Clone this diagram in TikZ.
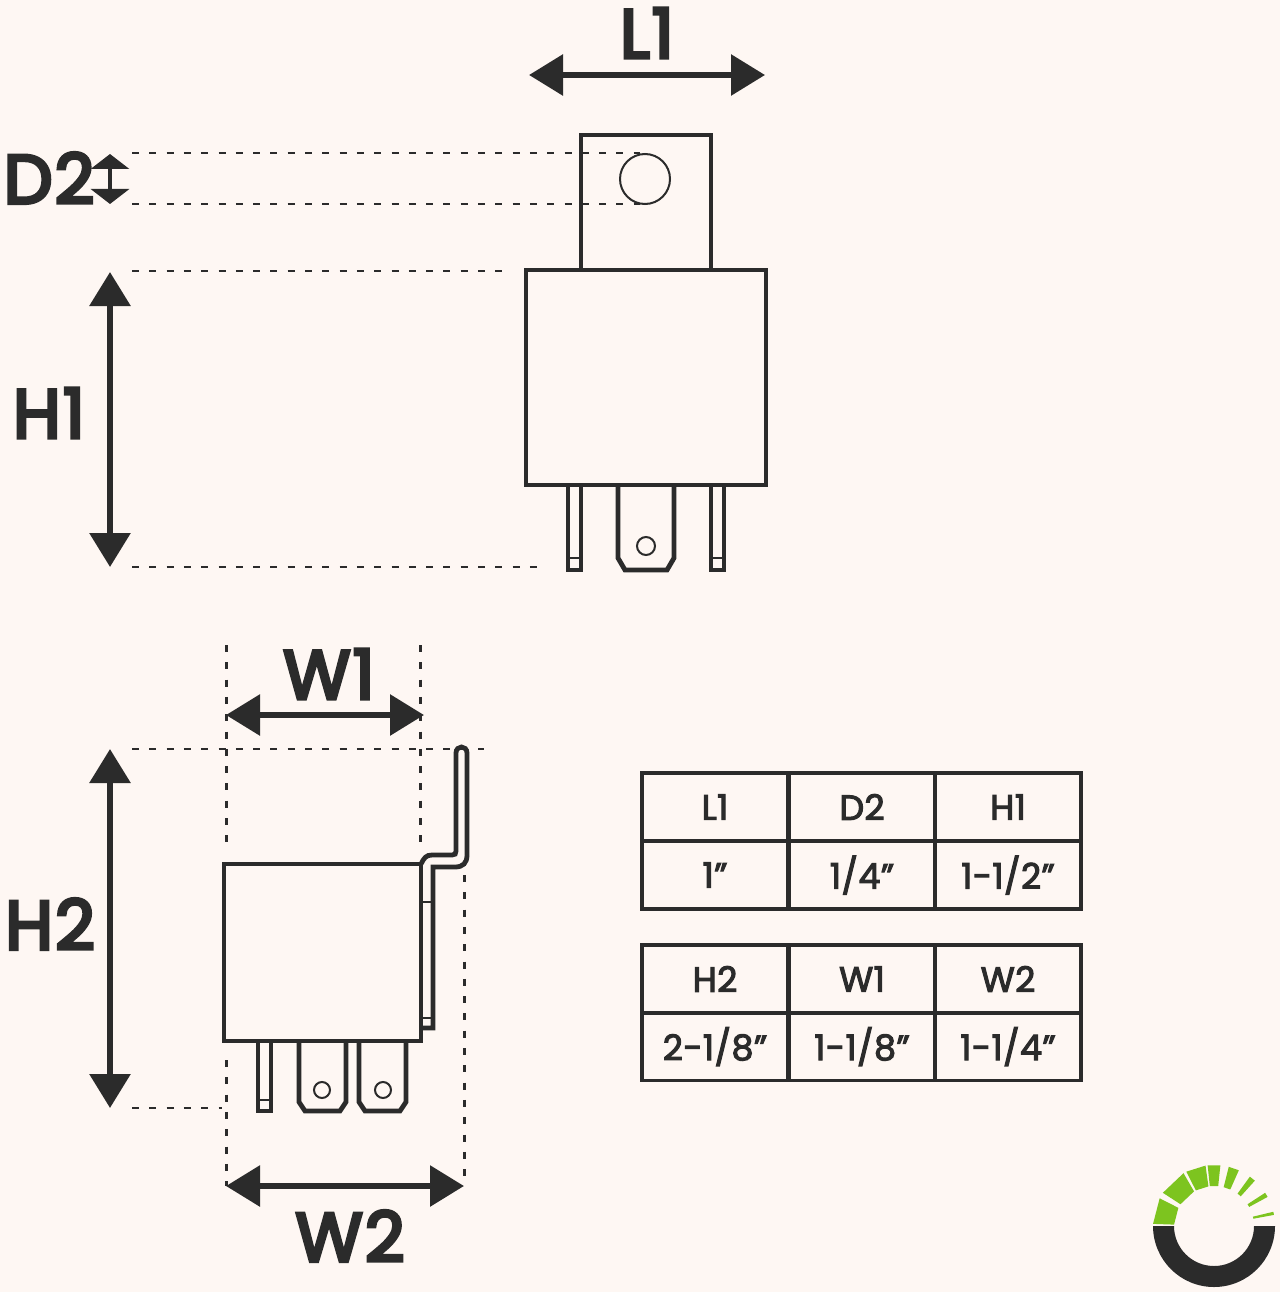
\documentclass[tikz,border=0pt]{standalone}
\usepackage{fontspec}
\setmainfont{Poppins}
\newfontfamily\dimfont[FakeBold=5,LetterSpace=3]{Poppins}
\newfontfamily\cellfont[FakeBold=3,LetterSpace=1]{Poppins}
\usetikzlibrary{arrows.meta}
\definecolor{paper}{HTML}{FEF7F3}
\definecolor{ink}{HTML}{2B2B2B}
\definecolor{leaf}{HTML}{7DC41F}
\tikzstyle{part} = [draw = ink, line width = 4.8pt, line join = miter]
\tikzstyle{thinpart} = [draw = ink, line width = 2pt]
\tikzstyle{guide} = [draw = ink, line width = 2.2pt, dash pattern = on 7pt off 10.3pt]
\tikzstyle{guidev} = [draw = ink, line width = 3pt, dash pattern = on 7pt off 10.3pt]
\tikzstyle{dimarrow} = [draw = ink, line width = 6pt, <->, %
                        >={Triangle[length=34pt,width=40pt]}]
\tikzstyle{smallarrow} = [draw = ink, line width = 4pt, <->, %
                          >={Triangle[length=15pt,width=38pt]}]
\tikzstyle{dimlabel} = [text = ink, font = \fontsize{69}{76}\dimfont, %
                        inner sep = 0pt]
\tikzstyle{cell} = [rectangle, draw = ink, line width = 3.4pt, text = ink, %
                    minimum width = 146.3pt, minimum height = 68pt, inner sep = 0pt, %
                    font = \fontsize{35}{40}\cellfont]
\newcommand{\hole}[3]{\draw [thinpart] (#1,#2) circle (#3);}
\begin{document}
\begin{tikzpicture}[x=1pt,y=-1pt]
      \fill [paper] (0,0) rectangle (1280,1292);
      \useasboundingbox (0,0) rectangle (1280,1292);
      % Front relay
      \draw [part] (581,270) -- (581,135) -- (711,135) -- (711,270);
      \draw [part] (526,270) rectangle (766,485);
      \hole{645}{179}{25}
      \draw [part] (568,485) -- (568,570) -- (581,570) -- (581,485);
      \draw [thinpart] (568,558) -- (581,558);
      \draw [part] (618,485) -- (618,558) -- (625,570) -- (667,570) %
        -- (674,558) -- (674,485);
      \hole{646}{546}{9}
      \draw [part] (711,485) -- (711,570) -- (724,570) -- (724,485);
      \draw [thinpart] (711,558) -- (724,558);
      % Side relay
      \draw [part] (224,864) rectangle (421,1041);
      \draw [part] (421,864) .. controls (424,858) and (426,855) .. (432,855) %
        -- (452,855) .. controls (455,855) and (456,854) .. (456,851) %
        -- (456,753) .. controls (456,745) and (467,745) .. (467,753) %
        -- (467,855) .. controls (467,863) and (463,867) .. (455,867) %
        -- (433,867) -- (433,1028) -- (421,1028);
      \draw [thinpart] (421,902) -- (433,902);
      \draw [thinpart] (421,1018) -- (433,1018);
      \draw [part] (258,1041) -- (258,1111) -- (271,1111) -- (271,1041);
      \draw [thinpart] (258,1100) -- (271,1100);
      \draw [part] (299,1041) -- (299,1102) -- (305,1111) -- (340,1111) %
        -- (346,1102) -- (346,1041);
      \hole{322}{1090}{8}
      \draw [part] (359,1041) -- (359,1102) -- (365,1111) -- (400,1111) %
        -- (406,1102) -- (406,1041);
      \hole{383}{1090}{8}
      % Guide ends
      \coordinate (d2topL) at (132,153);   \coordinate (d2topR) at (640,153);
      \coordinate (d2botL) at (132,204);   \coordinate (d2botR) at (640,204);
      \coordinate (h1topL) at (132,271);   \coordinate (h1topR) at (502,271);
      \coordinate (h1botL) at (132,567);   \coordinate (h1botR) at (545,567);
      \coordinate (h2topL) at (132,749);   \coordinate (h2topR) at (484,749);
      \coordinate (h2botL) at (132,1108);  \coordinate (h2botR) at (222,1108);
      \coordinate (w1aT) at (226,645);     \coordinate (w1aB) at (226,850);
      \coordinate (w1bT) at (420,645);     \coordinate (w1bB) at (420,850);
      \coordinate (w2aT) at (226,1060);    \coordinate (w2aB) at (226,1186);
      \coordinate (w2bT) at (464,875);     \coordinate (w2bB) at (464,1186);
      % Guides
      \foreach \gfrom/\gto in {d2topL/d2topR,d2botL/d2botR,h1topL/h1topR, %
          h1botL/h1botR,h2topL/h2topR,h2botL/h2botR}
        \draw [guide] (\gfrom) -- (\gto);
      \foreach \gfrom/\gto in {w1aT/w1aB,w1bT/w1bB,w2aT/w2aB,w2bT/w2bB}
        \draw [guidev] (\gfrom) -- (\gto);
      % Arrow ends
      \coordinate (l1a) at (529,75);   \coordinate (l1b) at (765,75);
      \coordinate (d2a) at (110,154);  \coordinate (d2b) at (110,204);
      \coordinate (h1a) at (110,272);  \coordinate (h1b) at (110,567);
      \coordinate (w1a) at (226,715);  \coordinate (w1b) at (424,715);
      \coordinate (h2a) at (110,749);  \coordinate (h2b) at (110,1108);
      \coordinate (w2a) at (226,1186); \coordinate (w2b) at (464,1186);
      % Arrows
      \draw [dimarrow] (l1a) -- (l1b);
      \draw [smallarrow] (d2a) -- (d2b);
      \draw [dimarrow] (h1a) -- (h1b);
      \draw [dimarrow] (w1a) -- (w1b);
      \draw [dimarrow] (h2a) -- (h2b);
      \draw [dimarrow] (w2a) -- (w2b);
      % Labels
      \node (labL1) [dimlabel] at (647,33) {L1};
      \node (labD2) [dimlabel] at (49,178) {D2};
      \node (labH1) [dimlabel] at (49,413) {H1};
      \node (labW1) [dimlabel] at (329,674) {W1};
      \node (labH2) [dimlabel] at (50,924) {H2};
      \node (labW2) [dimlabel] at (350,1236) {W2};
      % Tables
      \foreach \cname/\cx/\cy/\ctext in {a/715/807/L1,b/862/807/D2,c/1008/807/H1, %
          d/715/875/1”,e/862/875/{1/4”},f/1008/875/{1-1/2”}, %
          g/715/979/H2,h/862/979/W1,i/1008/979/W2, %
          j/715/1046.5/{2-1/8”},k/862/1046.5/{1-1/8”},l/1008/1046.5/{1-1/4”}}
        \node (cell\cname) [cell] at (\cx,\cy) {\raisebox{-3.5pt}{\ctext}};
      % Logo
      \fill [ink] (1153,1226) arc (180:0:61) -- (1254,1226) arc (0:180:40) -- cycle;
      \foreach \astart/\aend in {178/153,147/120,117/98,96/84,76/66,54/48,33/28.5,13.5/10.5}
        \fill [leaf] ([shift={(1214,1226)}]\astart:40 and -40) %
          -- ([shift={(1214,1226)}]\astart:61 and -61) %
          -- ([shift={(1214,1226)}]\aend:61 and -61) %
          -- ([shift={(1214,1226)}]\aend:40 and -40) -- cycle;
\end{tikzpicture}
\end{document}
